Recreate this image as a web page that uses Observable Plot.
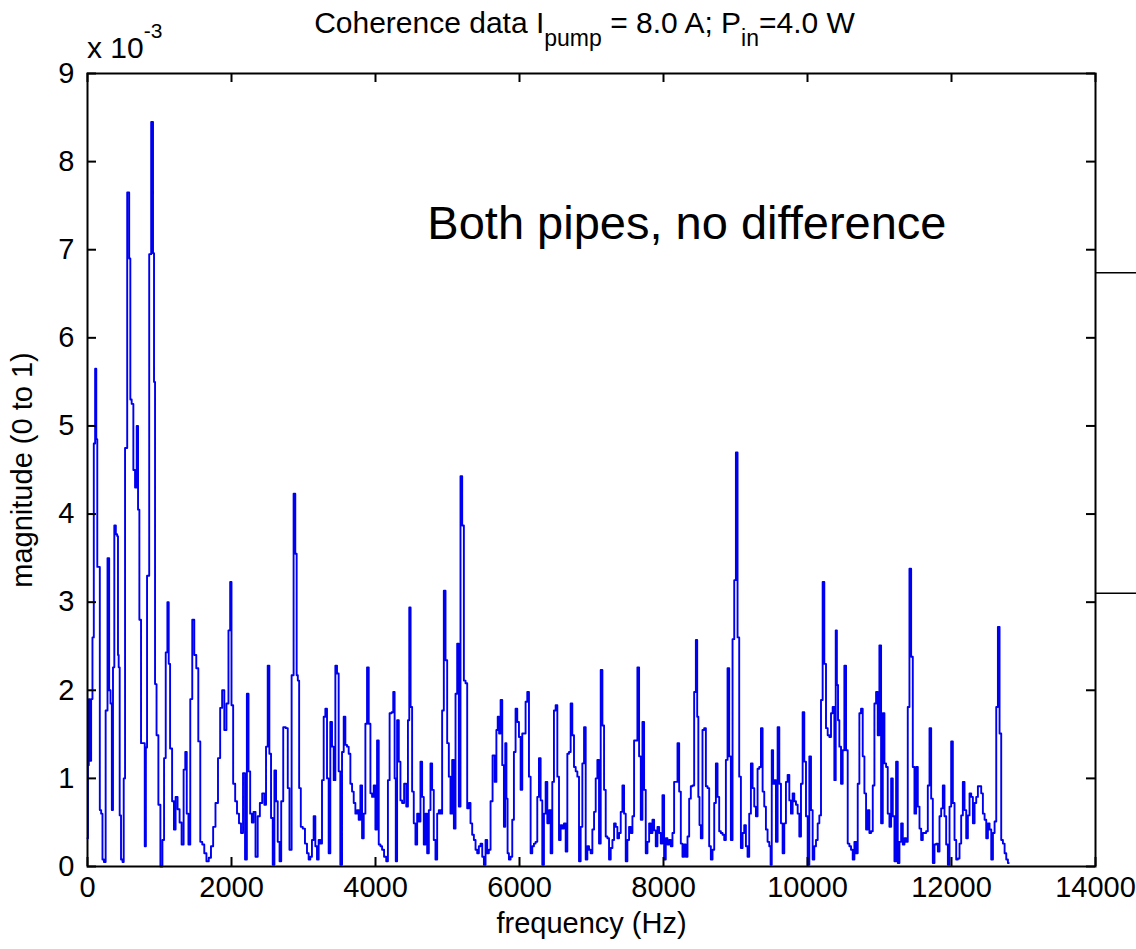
<!DOCTYPE html>
<html><head><meta charset="utf-8">
<script src="https://cdn.jsdelivr.net/npm/d3@7"></script>
<script src="https://cdn.jsdelivr.net/npm/@observablehq/plot@0.6"></script>
<style>
body{margin:0;background:#fff;}
#wrap{position:relative;width:1136px;height:949px;font-family:"Liberation Sans",Arial,Helvetica,sans-serif;color:#000;overflow:hidden;}
#title{position:absolute;left:33px;width:1103px;top:8px;text-align:center;font-size:30px;line-height:30px;white-space:nowrap;}
#title .sub{position:relative;top:13px;font-size:23px;}
#exp{position:absolute;left:87px;top:33px;font-size:30px;line-height:30px;white-space:nowrap;}
#exp .sup{position:relative;top:-20px;font-size:21px;}
#chart{position:absolute;left:0;top:0;}
</style></head>
<body>
<div id="wrap">
  <div id="chart"></div>
  <div id="title">Coherence data I<span class="sub">pump</span> = 8.0 A; P<span class="sub">in</span>=4.0 W</div>
  <div id="exp">x 10<span class="sup">-3</span></div>
</div>
<script>
// frequency (Hz) and coherence magnitude (in units of 10^-3)
const freq = [0,13,23,41,60,78,97,115,129,143,162,180,199,217,240,264,292,310,329,347,361,384,403,421,426,440,454,477,496,510,533,570,588,602,625,649,672,695,709,732,755,788,802,820,834,848,866,903,917,931,945,973,996,1029,1052,1075,1098,1121,1135,1159,1191,1210,1237,1265,1293,1321,1349,1367,1390,1414,1441,1469,1497,1525,1553,1580,1608,1636,1668,1701,1729,1761,1794,1831,1854,1886,1914,1946,1970,1993,2007,2039,2063,2090,2118,2146,2174,2202,2225,2248,2271,2294,2317,2350,2378,2410,2443,2470,2489,2517,2535,2563,2582,2610,2628,2656,2679,2702,2735,
2772,2791,2819,2851,2874,2898,2912,2930,2949,2976,3004,3037,3060,3083,3106,3129,3153,3176,3199,3222,3245,3269,3292,3315,3338,3361,3384,3408,3431,3454,3477,3500,3523,3547,3570,3593,3616,3639,3663,3686,3709,3732,3755,3778,3802,3825,3848,3871,3894,3918,3941,3964,3987,4010,4033,4057,4080,4103,4135,4163,4182,4210,4237,4256,4275,4288,4312,4335,4358,4381,4414,4441,4460,4478,4497,4520,4543,4567,4590,4613,4636,4659,4682,4706,4729,4752,4775,4798,4821,4845,4868,4891,4914,4937,4961,4984,5007,5030,5053,5077,5100,5123,5146,5169,5192,5216,5239,5262,5285,5308,5331,5355,5378,5401,5424,5447,
5471,5494,5517,5540,5563,5586,5610,5642,5670,5688,5707,5726,5749,5772,5795,5809,5828,5841,5865,5888,5911,5934,5957,5981,6004,6027,6050,6073,6096,6120,6143,6166,6189,6212,6235,6259,6282,6305,6328,6351,6375,6398,6421,6444,6467,6490,6514,6537,6560,6583,6606,6630,6653,6676,6699,6722,6745,6769,6792,6815,6838,6861,6885,6908,6931,6954,6977,7000,7024,7047,7070,7093,7116,7140,7163,7186,7209,7232,7255,7279,7302,7325,7348,7371,7394,7418,7441,7464,7487,7510,7533,7557,7580,7603,7626,7649,7673,7696,7719,7742,7765,7789,7812,7835,7858,7881,7904,7928,7951,7974,7997,8020,8043,8067,8090,8113,8136,8159,
8183,8206,8229,8252,8275,8298,8322,8345,8368,8391,8414,8438,8461,8475,8493,8507,8530,8553,8577,8600,8623,8646,8669,8693,8716,8739,8762,8785,8808,8832,8855,8878,8901,8924,8947,8971,8994,9017,9040,9063,9087,9110,9133,9156,9179,9202,9226,9249,9272,9295,9318,9342,9365,9388,9411,9434,9457,9481,9494,9513,9532,9550,9573,9597,9620,9643,9666,9689,9712,9736,9759,9782,9805,9828,9852,9875,9898,9921,9944,9967,9991,10014,10037,10060,10083,10106,10130,10153,10176,10199,10222,10245,10269,10292,10315,10338,10361,10385,10399,10417,10431,10454,10477,10500,10524,10547,10570,10593,10616,10640,10663,10686,10709,10732,10755,10779,10802,10825,10848,10871,
10895,10918,10941,10964,10987,11010,11034,11057,11080,11103,11126,11150,11173,11196,11219,11242,11265,11289,11312,11335,11358,11381,11404,11428,11451,11474,11497,11520,11544,11567,11590,11613,11636,11659,11683,11706,11729,11752,11775,11799,11822,11845,11868,11891,11914,11938,11961,11984,12007,12030,12054,12077,12100,12123,12146,12169,12193,12216,12239,12262,12285,12309,12332,12355,12378,12401,12424,12448,12471,12494,12517,12540,12564,12587,12610,12633,12656,12679,12702,12726,12749,12772,12795];
const mag = [0.32,1.15,1.9,1.2,1.9,2.6,4.8,5.65,4.85,3.4,3.4,0.64,0.6,0.08,0.05,1.77,3.5,2.0,1.85,0.64,2.26,3.87,3.77,3.75,2.4,2.26,0.58,0.08,0.05,1.0,4.75,7.65,6.9,5.3,5.25,4.5,4.3,5.0,4.05,2.8,1.4,1.4,0.23,1.35,3.3,3.3,6.95,8.45,6.96,5.5,2.07,1.49,0.7,0.0,0.3,1.23,2.43,3.0,2.3,1.34,0.74,0.42,0.79,0.65,0.5,0.25,1.1,1.3,0.6,0.25,1.9,2.8,2.4,2.25,1.42,0.28,0.25,0.15,0.06,0.1,0.23,0.45,0.72,1.23,1.8,2.0,1.55,1.85,2.68,3.23,1.83,0.94,0.74,0.6,0.49,0.38,1.06,0.08,1.96,1.08,0.6,0.5,0.62,0.11,0.57,0.72,0.83,0.7,1.36,2.28,1.28,0.55,0.02,1.09,0.74,0.28,0.06,0.74,1.58,
1.57,0.89,0.19,2.17,4.23,3.55,2.17,2.11,0.89,0.45,0.43,0.26,0.15,0.08,0.11,0.3,0.57,0.23,0.08,0.3,0.26,0.98,1.7,1.79,1.0,0.15,1.64,1.36,0.98,2.28,2.19,1.08,0.02,1.3,1.7,1.38,1.36,1.28,0.94,0.85,0.72,0.6,0.64,0.53,0.92,0.32,0.6,1.62,2.26,1.62,0.83,0.79,0.92,0.42,1.43,0.25,0.23,0.19,0.11,0.06,0.98,1.74,1.75,1.98,1.0,0.06,1.66,1.19,0.75,0.72,0.94,0.68,1.66,2.94,1.81,0.85,0.49,0.25,0.6,0.51,1.19,0.79,0.25,0.6,0.15,0.64,1.17,0.87,0.3,0.08,0.6,0.64,0.6,1.77,3.13,2.34,1.4,1.02,0.6,1.21,0.43,1.96,2.53,0.68,4.43,3.87,2.11,2.08,0.66,0.72,0.49,0.36,0.3,0.19,0.15,0.23,
0.26,0.11,0.02,0.3,0.15,0.19,0.74,1.26,0.96,1.55,1.7,1.51,1.89,1.15,0.45,1.4,0.77,0.15,0.08,0.11,0.53,1.3,1.79,1.64,1.47,0.87,1.51,1.51,1.87,1.98,1.02,0.15,0.23,0.26,0.28,0.79,1.23,0.75,0.02,0.6,0.96,0.49,0.64,0.15,0.96,1.77,1.83,1.02,0.3,0.47,0.43,0.49,0.17,1.28,1.3,1.85,1.49,1.13,1.08,1.02,0.06,0.45,1.17,1.58,0.08,0.23,0.19,0.15,0.42,0.62,1.0,1.21,0.26,2.23,1.6,0.87,0.34,0.32,0.08,0.21,0.3,0.49,0.45,0.32,0.38,0.62,0.92,0.6,0.06,0.3,0.45,0.38,0.57,1.43,1.43,2.26,1.25,0.53,1.64,0.87,0.15,0.28,0.49,0.38,0.53,0.41,0.23,0.45,0.38,0.26,0.81,0.08,0.32,0.25,0.3,0.23,0.38,0.96,
0.96,1.4,0.85,0.26,0.11,0.25,0.11,0.34,0.77,0.91,0.92,1.98,2.57,1.7,0.79,0.47,0.32,1.55,1.57,0.91,0.89,0.23,0.08,0.19,0.72,1.17,0.79,0.4,0.38,0.36,0.3,1.21,2.25,1.25,0.3,2.58,3.25,4.7,2.6,1.02,0.21,0.38,0.47,0.23,0.11,0.6,1.17,0.89,0.68,0.57,1.11,1.13,1.57,0.85,0.68,0.42,0.28,0.23,0.02,1.32,0.94,0.98,0.28,1.58,0.94,0.49,0.15,0.49,0.96,1.04,0.75,0.6,0.83,0.74,0.7,0.6,0.34,0.94,1.75,1.19,0.57,0.02,1.25,0.64,0.08,0.23,0.3,0.49,0.58,1.89,3.23,2.3,1.57,1.49,1.47,1.74,1.81,0.98,2.68,2.06,1.66,1.36,0.94,1.32,2.28,1.32,0.26,0.23,0.19,0.08,0.28,0.15,0.94,1.74,1.79,1.25,0.83,0.42,0.64,0.38,
0.4,0.92,1.85,1.98,1.49,2.51,0.49,1.74,1.17,1.13,0.6,0.45,1.0,0.57,0.06,1.19,0.04,0.28,0.49,0.25,0.32,0.28,1.81,3.38,2.38,1.13,0.6,1.13,0.68,0.43,0.3,0.38,0.38,0.4,0.92,1.57,0.77,0.04,0.25,0.26,0.17,0.57,0.66,0.92,0.57,0.25,0.02,0.68,1.42,0.72,0.3,0.08,0.09,0.26,0.58,0.96,0.64,0.32,0.58,0.83,0.79,0.49,0.72,0.79,0.91,0.91,0.83,0.6,0.53,0.32,0.49,0.42,0.08,0.38,0.51,1.81,2.72,1.51,0.3,0.26,0.15,0.08,0.04];

const xTicks = [0, 2000, 4000, 6000, 8000, 10000, 12000, 14000];
const yTicks = [0, 1, 2, 3, 4, 5, 6, 7, 8, 9];
const bracketLevels = [6.74, 3.10];
const annotation = [{f: 4720, v: 7.29, label: "Both pipes, no difference"}];
const xLabel = "frequency (Hz)";
const yLabel = "magnitude (0 to 1)";

const data = freq.map((f, i) => ({f, v: mag[i]}));

const W = 1136, H = 949, ML = 87, MR = 41, MT = 73, MB = 83;
const plotW = W - ML - MR, plotH = H - MT - MB, tickLen = 9;
const ink = {stroke: "#000", strokeWidth: 2};

const chart = Plot.plot({
  width: W, height: H,
  marginLeft: ML, marginRight: MR, marginTop: MT, marginBottom: MB,
  style: {fontFamily: '"Liberation Sans", Arial, Helvetica, sans-serif', fontSize: "29px", color: "#000", background: "#fff", overflow: "visible"},
  x: {domain: [0, 14000], ticks: xTicks, tickSize: 0, tickPadding: 10, tickFormat: d => String(d), label: null},
  y: {domain: [0, 9], ticks: yTicks, tickSize: 0, tickPadding: 13, tickFormat: d => String(d), label: null},
  marks: [
    Plot.line(data, {x: "f", y: "v", curve: "step", stroke: "#0000f0", strokeWidth: 1.9}),
    Plot.ruleX(xTicks, {insetTop: plotH - tickLen, ...ink}),
    Plot.ruleX(xTicks, {insetBottom: plotH - tickLen, ...ink}),
    Plot.ruleY(yTicks, {insetRight: plotW - tickLen, ...ink}),
    Plot.ruleY(yTicks, {insetLeft: plotW - tickLen, ...ink}),
    Plot.frame(ink),
    Plot.ruleY(bracketLevels, {insetLeft: plotW, insetRight: -MR, stroke: "#000", strokeWidth: 1.5}),
    Plot.text(annotation, {x: "f", y: "v", text: "label", textAnchor: "start", fontSize: 47, fill: "#000"}),
    Plot.text([yLabel], {frameAnchor: "left", textAnchor: "middle", rotate: -90, dx: -65, fontSize: 29, fill: "#000"}),
    Plot.text([xLabel], {frameAnchor: "bottom", textAnchor: "middle", dy: 66, fontSize: 29, fill: "#000"})
  ]
});
document.getElementById("chart").appendChild(chart);
</script>
</body></html>
